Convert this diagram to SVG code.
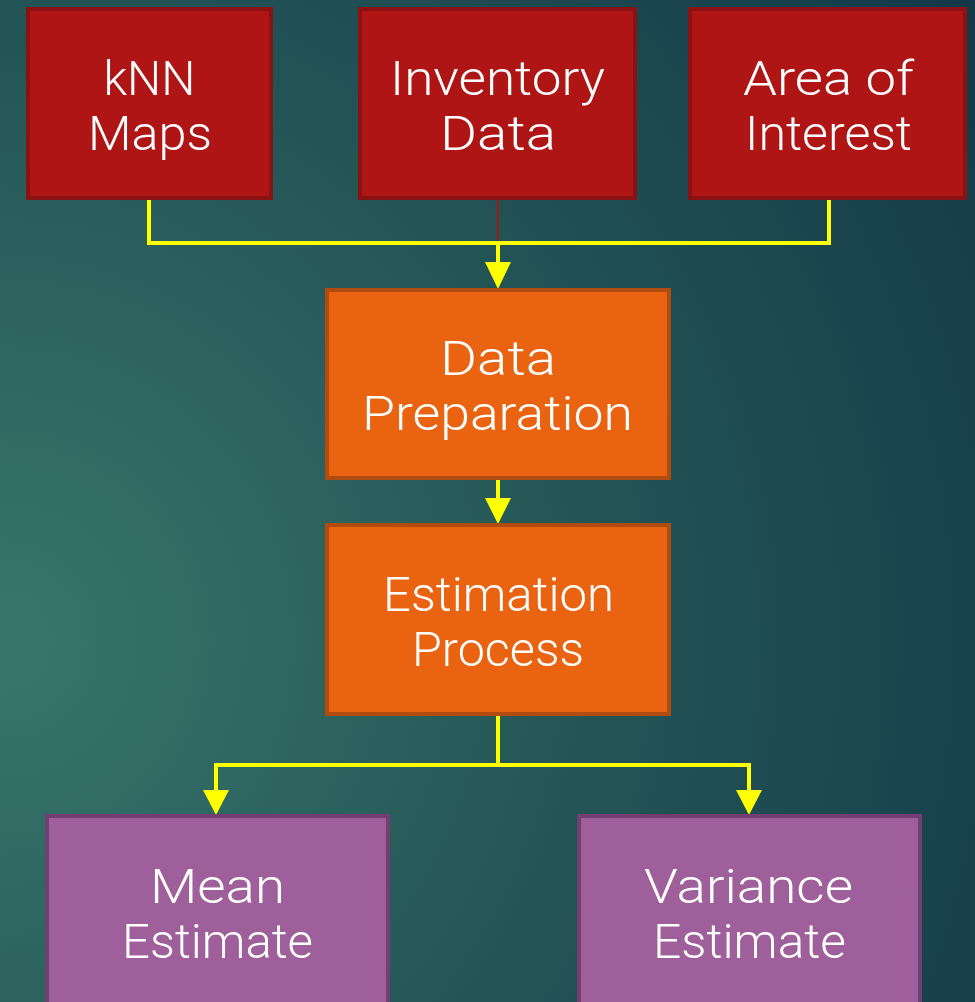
<svg xmlns="http://www.w3.org/2000/svg" width="975" height="1002" viewBox="0 0 975 1002">
<defs>
<radialGradient id="bg" gradientUnits="userSpaceOnUse" cx="0" cy="640" r="1150">
<stop offset="0" stop-color="#38766c"/>
<stop offset="0.5" stop-color="#245656"/>
<stop offset="1" stop-color="#133949"/>
</radialGradient>
<style>
.red rect{fill:#b01515;stroke:#8a1212;stroke-width:4}
.org rect{fill:#e96311;stroke:#b04c10;stroke-width:4}
.pur rect{fill:#9e5f9a;stroke:#733f72;stroke-width:4}
text{font-family:Roboto,"Liberation Sans",Arial,sans-serif;font-weight:300;font-size:48px;fill:#ffffff;text-anchor:middle}
.conn path{fill:none;stroke:#ffff00;stroke-width:4}
.head{fill:#ffff00;stroke:none}
</style>
</defs>
<rect x="0" y="0" width="975" height="1002" fill="url(#bg)"/>

<g class="conn" id="connectors">
<line x1="498" y1="199" x2="498" y2="243" stroke="#a01818" stroke-width="2"/>
<path d="M149,199 V243 H829 V199"/>
<path d="M498,243 V264"/>
<polygon class="head" points="485,262 511,262 498,289"/>
<path d="M498,479 V500"/>
<polygon class="head" points="485,498 511,498 498,524"/>
<path d="M498,715 V765 M216,792 V765 H749 V792"/>
<polygon class="head" points="203,790 229,790 216,815"/>
<polygon class="head" points="736,790 762,790 749,815"/>
</g>

<g id="knn" class="red">
<rect x="28" y="9" width="243" height="189"/>
<text x="149.5" y="95" textLength="92" lengthAdjust="spacingAndGlyphs">kNN</text>
<text x="150" y="150" textLength="124" lengthAdjust="spacingAndGlyphs">Maps</text>
</g>
<g id="inventory" class="red">
<rect x="360" y="9" width="275" height="189"/>
<text x="497.5" y="95" textLength="215" lengthAdjust="spacingAndGlyphs">Inventory</text>
<text x="498" y="150" textLength="116" lengthAdjust="spacingAndGlyphs">Data</text>
</g>
<g id="area" class="red">
<rect x="690" y="9" width="275" height="189"/>
<text x="828.5" y="95" textLength="171" lengthAdjust="spacingAndGlyphs">Area of</text>
<text x="828.5" y="150" textLength="167" lengthAdjust="spacingAndGlyphs">Interest</text>
</g>
<g id="dataprep" class="org">
<rect x="327" y="290" width="342" height="188"/>
<text x="498" y="375" textLength="116" lengthAdjust="spacingAndGlyphs">Data</text>
<text x="497.5" y="430" textLength="271" lengthAdjust="spacingAndGlyphs">Preparation</text>
</g>
<g id="estimation" class="org">
<rect x="327" y="525" width="342" height="189"/>
<text x="498.5" y="611" textLength="231" lengthAdjust="spacingAndGlyphs">Estimation</text>
<text x="498" y="666" textLength="172" lengthAdjust="spacingAndGlyphs">Process</text>
</g>
<g id="mean" class="pur">
<rect x="47" y="816" width="341" height="200"/>
<text x="217.5" y="903" textLength="135" lengthAdjust="spacingAndGlyphs">Mean</text>
<text x="217.5" y="958" textLength="191" lengthAdjust="spacingAndGlyphs">Estimate</text>
</g>
<g id="variance" class="pur">
<rect x="579" y="816" width="341" height="200"/>
<text x="748.5" y="903" textLength="209" lengthAdjust="spacingAndGlyphs">Variance</text>
<text x="749.5" y="958" textLength="193" lengthAdjust="spacingAndGlyphs">Estimate</text>
</g>
</svg>
